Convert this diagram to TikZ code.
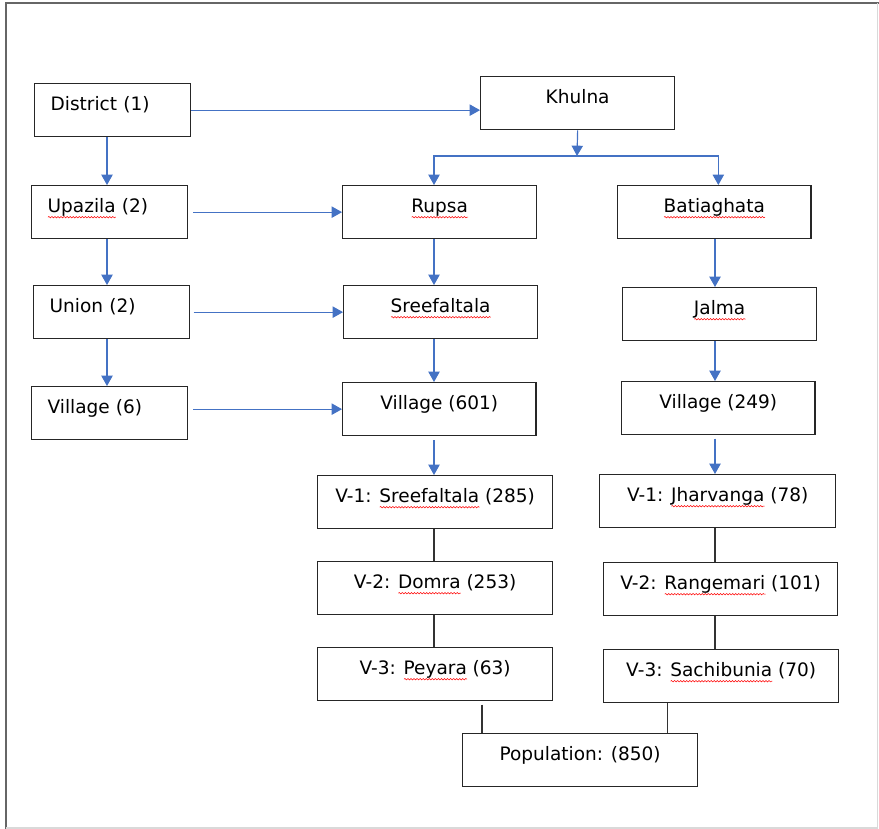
\documentclass[tikz,border=0pt]{standalone}
\usepackage{fontspec}
\setmainfont{DejaVu Sans}
\usepackage{xcolor}
\usetikzlibrary{arrows.meta,positioning,calc,decorations.pathmorphing}
\definecolor{edgeblue}{HTML}{4472C4}
\newlength{\wavylen}
\newcommand{\wavy}[1]{\settowidth{\wavylen}{#1}\rlap{\tikz[baseline=0pt]{\draw[red, line width=0.45pt, decorate,
  decoration={snake, amplitude=0.6pt, segment length=2.6pt}] (0pt,-3.6pt) -- (\wavylen,-3.6pt);}}#1}

\begin{document}
\begin{tikzpicture}[x=0.3mm, y=-0.3mm,
    bx/.style={draw=black!85, line width=1.1pt, anchor=north west, inner ysep=0pt,
      text height=8.2mm, text depth=7.7mm, font=\fontsize{15.8}{19}\selectfont},
    lbx/.style={bx, inner xsep=4.8mm, text width=37.2mm, align=left},
    cbx/.style={bx, minimum width=#1, inner xsep=2pt},
    ed/.style={-{Triangle[length=3.1mm,width=3.4mm]}, draw=edgeblue, line width=1pt},
    ln/.style={draw=black!80, line width=1.1pt},
  ]
  \useasboundingbox (0,0) rectangle (879,829);
  \draw[black!60, line width=0.6mm] (6,829) -- (6,3.5) -- (879,3.5);
  \draw[black!15, line width=0.4mm] (877.5,3.5) -- (877.5,828) -- (6,828);

  \node[lbx] (dist) at (34,83)  {District (1)};
  \node[lbx] (upz)  at (31,185) {\wavy{Upazila} (2)};
  \node[lbx] (uni)  at (33,285) {Union (2)};
  \node[lbx] (vil)  at (31,386) {Village (6)};

  \node[cbx=58.2mm] (khu) at (480,76)  {Khulna};
  \node[cbx=58.2mm] (rup) at (342,185) {\wavy{Rupsa}};
  \node[cbx=58.2mm] (sre) at (343,285) {\wavy{Sreefaltala}};
  \node[cbx=58mm]   (vru) at (342,382) {Village (601)};
  \node[cbx=58mm]   (bat) at (617,185) {\wavy{Batiaghata}};
  \node[cbx=58.2mm] (jal) at (622,287) {\wavy{Jalma}};
  \node[cbx=58mm]   (vba) at (621,381) {Village (249)};

  \node[cbx=70.5mm] (vr1) at (317,475) {V-1: \wavy{Sreefaltala} (285)};
  \node[cbx=70.5mm] (vr2) at (317,561) {V-2: \wavy{Domra} (253)};
  \node[cbx=70.5mm] (vr3) at (317,647) {V-3: \wavy{Peyara} (63)};
  \node[cbx=70.8mm] (vb1) at (599,474) {V-1: \wavy{Jharvanga} (78)};
  \node[cbx=70.2mm] (vb2) at (603,562) {V-2: \wavy{Rangemari} (101)};
  \node[cbx=70.5mm] (vb3) at (603,649) {V-3: \wavy{Sachibunia} (70)};
  \node[cbx=70.5mm] (pop) at (462,733) {Population: (850)};

  \coordinate (lx) at (107,0);
  \coordinate (mx) at (434,0);
  \coordinate (rx) at (715,0);
  \coordinate (fork) at (577,156);
  \coordinate (pl) at ([xshift=6mm]pop.north west);
  \coordinate (pr) at ([xshift=-9.3mm]pop.north east);

  \draw[ed] (lx |- dist.south) -- (lx |- upz.north);
  \draw[ed] (lx |- upz.south) -- (lx |- uni.north);
  \draw[ed] (lx |- uni.south) -- (lx |- vil.north);
  \draw[ed] (dist.east) -- (dist.east -| khu.west);
  \draw[ed, shorten <=1.5mm] (upz.east) -- (upz.east -| rup.west);
  \draw[ed, shorten <=1mm] (uni.east) -- (uni.east -| sre.west);
  \draw[ed, shorten <=1.5mm] (vil.east |- vru.west) -- (vru.west);

  \draw[ed] (khu.south) -- (fork);
  \draw[ed] (fork) -| (mx |- rup.north);
  \draw[ed] (fork) -| ([xshift=1.2mm]bat.north);
  \draw[ed] (mx |- rup.south) -- (mx |- sre.north);
  \draw[ed] (mx |- sre.south) -- (mx |- vru.north);
  \draw[ed, shorten <=1.2mm] (mx |- vru.south) -- (mx |- vr1.north);
  \draw[ed] (rx |- bat.south) -- (rx |- jal.north);
  \draw[ed] (rx |- jal.south) -- (rx |- vba.north);
  \draw[ed, shorten <=1mm] (rx |- vba.south) -- (rx |- vb1.north);

  \draw[ln] (mx |- vr1.south) -- (mx |- vr2.north);
  \draw[ln] (mx |- vr2.south) -- (mx |- vr3.north);
  \draw[ln] (rx |- vb1.south) -- (rx |- vb2.north);
  \draw[ln] (rx |- vb2.south) -- (rx |- vb3.north);
  \draw[ln, shorten <=1mm] (pl |- vr3.south) -- (pl);
  \draw[ln] (pr |- vb3.south) -- (pr);
\end{tikzpicture}
\end{document}
